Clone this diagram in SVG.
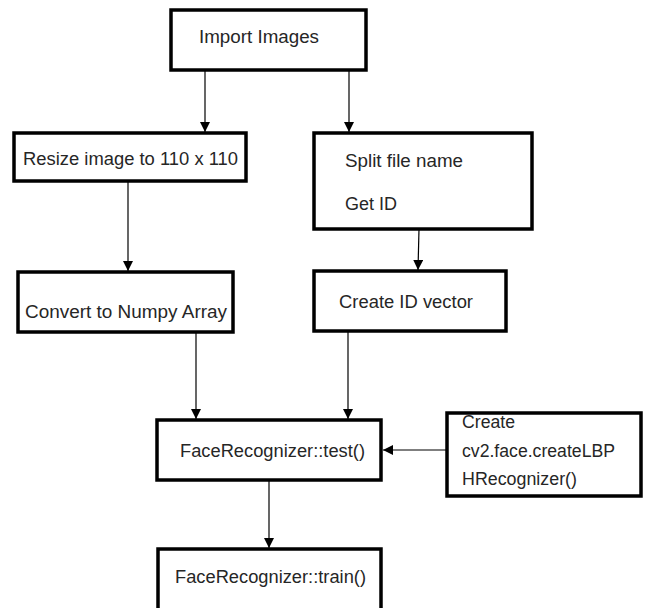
<svg xmlns="http://www.w3.org/2000/svg" width="647" height="608" viewBox="0 0 647 608">
<defs>
<style>
.box{fill:#fff;stroke:#000;stroke-width:3.5}
.t{font-family:"Liberation Sans",Arial,sans-serif;font-size:17.5px;fill:#262626}
.c{stroke:#000;stroke-width:1.2;fill:none;marker-end:url(#ah)}
</style>
<marker id="ah" markerWidth="10" markerHeight="10" refX="10" refY="5" orient="auto" markerUnits="userSpaceOnUse">
<path d="M0,0 L10,5 L0,10 Z" fill="#000"/>
</marker>
</defs>
<rect width="647" height="608" fill="#fff"/>
<g id="connectors">
<line class="c" x1="205" y1="71" x2="205" y2="132"/>
<line class="c" x1="349" y1="71" x2="349" y2="132"/>
<line class="c" x1="128" y1="182" x2="128" y2="271"/>
<line class="c" x1="419" y1="229" x2="418" y2="270"/>
<line class="c" x1="196" y1="332" x2="196" y2="419"/>
<line class="c" x1="348" y1="331" x2="348" y2="419"/>
<line class="c" x1="447" y1="450" x2="383" y2="450"/>
<line class="c" x1="269" y1="481" x2="269" y2="548"/>
</g>
<g id="import">
<rect class="box" x="171" y="10" width="195" height="60"/>
<text class="t" x="199" y="43" textLength="120" lengthAdjust="spacingAndGlyphs">Import Images</text>
</g>
<g id="resize">
<rect class="box" x="14" y="133" width="232" height="48"/>
<text class="t" x="23" y="165" textLength="215" lengthAdjust="spacingAndGlyphs">Resize image to 110 x 110</text>
</g>
<g id="split">
<rect class="box" x="314" y="133" width="218" height="96"/>
<text class="t" x="345" y="167" textLength="118" lengthAdjust="spacingAndGlyphs">Split file name</text>
<text class="t" x="345" y="210" textLength="52" lengthAdjust="spacingAndGlyphs">Get ID</text>
</g>
<g id="convert">
<rect class="box" x="18" y="272" width="215" height="60"/>
<text class="t" x="25" y="318" textLength="202" lengthAdjust="spacingAndGlyphs">Convert to Numpy Array</text>
</g>
<g id="createid">
<rect class="box" x="314" y="271" width="192" height="60"/>
<text class="t" x="339" y="308" textLength="134" lengthAdjust="spacingAndGlyphs">Create ID vector</text>
</g>
<g id="test">
<rect class="box" x="157" y="420" width="224" height="60"/>
<text class="t" x="180" y="457" textLength="185" lengthAdjust="spacingAndGlyphs">FaceRecognizer::test()</text>
</g>
<g id="create">
<rect class="box" x="447" y="413" width="194" height="83"/>
<text class="t" x="462" y="428" textLength="53" lengthAdjust="spacingAndGlyphs">Create</text>
<text class="t" x="462" y="457" textLength="153" lengthAdjust="spacingAndGlyphs">cv2.face.createLBP</text>
<text class="t" x="462" y="485" textLength="115" lengthAdjust="spacingAndGlyphs">HRecognizer()</text>
</g>
<g id="train">
<rect class="box" x="158" y="549" width="223" height="70"/>
<text class="t" x="175" y="583" textLength="191" lengthAdjust="spacingAndGlyphs">FaceRecognizer::train()</text>
</g>
</svg>
